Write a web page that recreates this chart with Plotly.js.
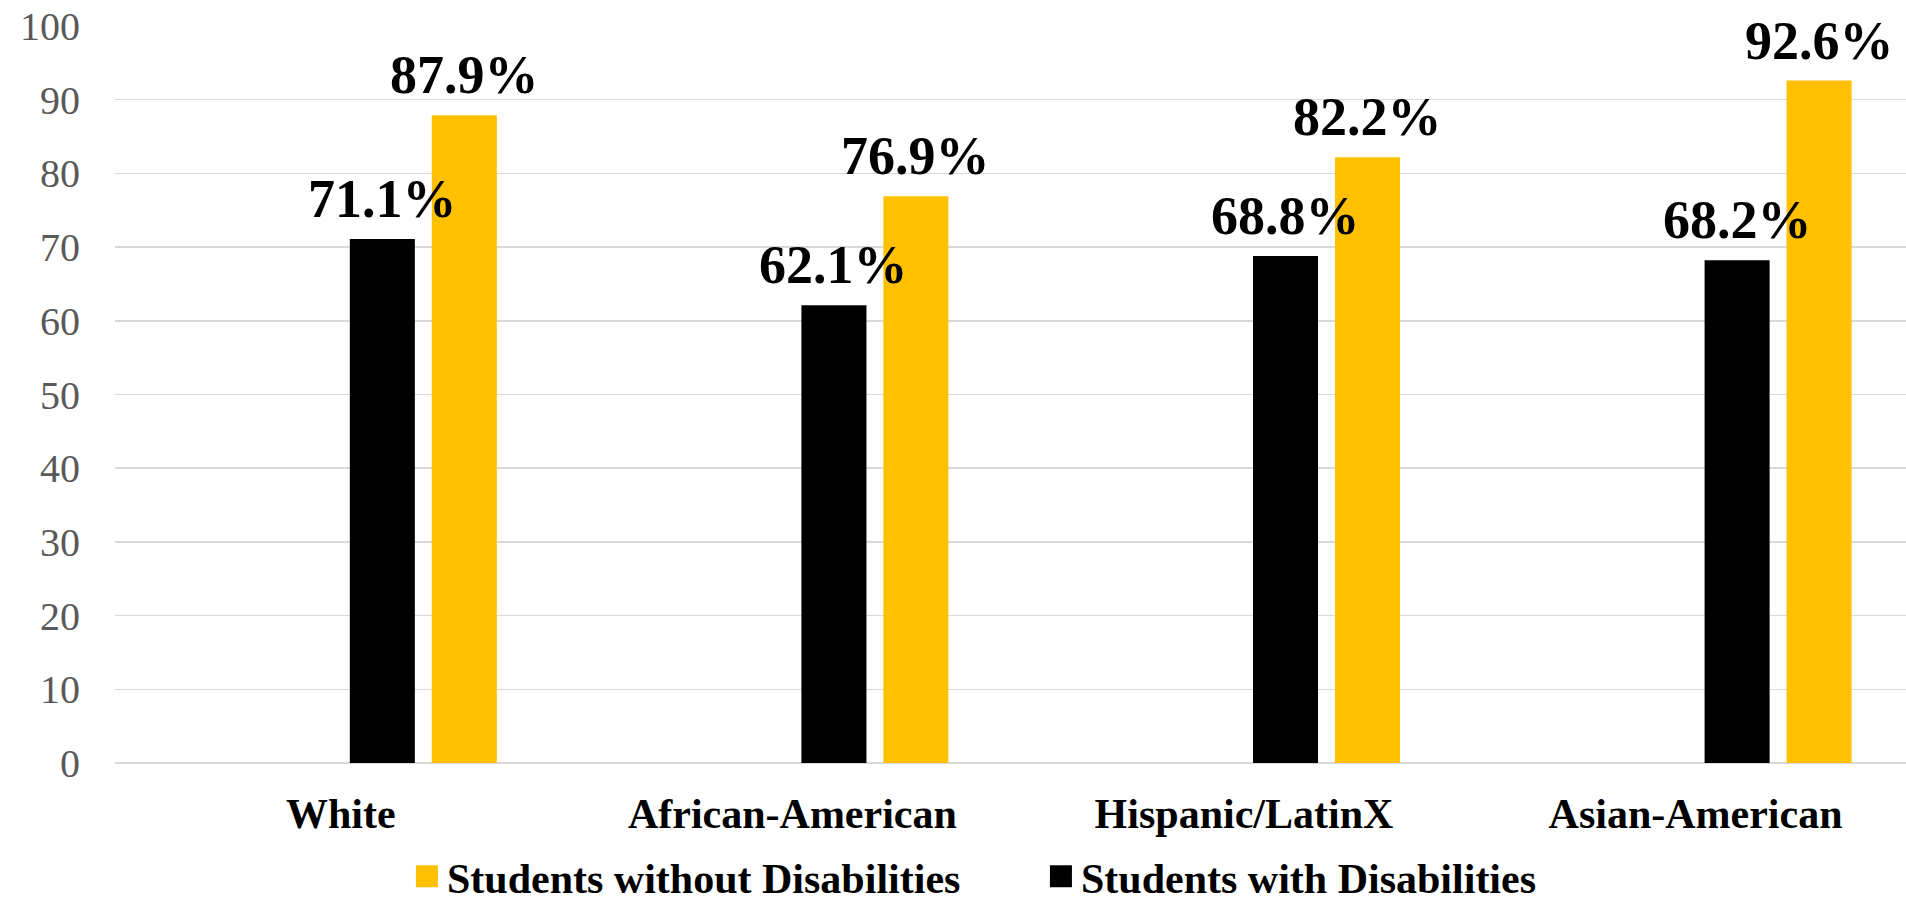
<!DOCTYPE html>
<html>
<head>
<meta charset="utf-8">
<script src="https://cdn.plot.ly/plotly-3.0.1.min.js"></script>
<style>
  html, body { margin: 0; padding: 0; background: #ffffff; }
  #chart { width: 1906px; height: 903px; }
</style>
</head>
<body>
<div id="chart"></div>
<script>
// Graduation rates by race/ethnicity, with and without disabilities
const groups = ['White', 'African-American', 'Hispanic/LatinX', 'Asian-American'];
const withDisabilities = [71.1, 62.1, 68.8, 68.2];
const withoutDisabilities = [87.9, 76.9, 82.2, 92.6];
const yTicks = [0, 10, 20, 30, 40, 50, 60, 70, 80, 90, 100];

const BLACK = '#000000';
const GOLD = '#FFC000';
const GRID = '#d9d9d9';
const SERIF = 'Liberation Serif, Times New Roman, serif';

// bar geometry in category units (two bars sit right of each category centre)
const barWidth = 0.144;
const offsetWith = 0.02;
const offsetWithout = 0.2015;

const traces = [
  {
    type: 'bar',
    name: 'Students with Disabilities',
    x: groups,
    y: withDisabilities,
    width: barWidth,
    offset: offsetWith,
    marker: { color: BLACK, line: { width: 0 } },
    legendrank: 2,
    hoverinfo: 'x+y'
  },
  {
    type: 'bar',
    name: 'Students without Disabilities',
    x: groups,
    y: withoutDisabilities,
    width: barWidth,
    offset: offsetWithout,
    marker: { color: GOLD, line: { width: 0 } },
    legendrank: 1,
    hoverinfo: 'x+y'
  }
];

// value labels above each bar
function valueLabels(values, offset) {
  return values.map((v, i) => ({
    x: i + offset + barWidth / 2,
    y: v,
    xref: 'x',
    yref: 'y',
    text: v.toFixed(1) + '%',
    showarrow: false,
    xanchor: 'center',
    yanchor: 'bottom',
    yshift: 8,
    font: { family: SERIF, size: 54, color: '#000000', weight: 700 }
  }));
}

const layout = {
  width: 1906,
  height: 903,
  paper_bgcolor: '#ffffff',
  plot_bgcolor: '#ffffff',
  margin: { l: 114.5, r: 0, t: 26, b: 140, autoexpand: false },
  barmode: 'overlay',
  showlegend: true,
  legend: {
    orientation: 'h',
    x: 0.163,
    xanchor: 'left',
    y: -0.154,
    yanchor: 'middle',
    entrywidth: 589,
    font: { family: SERIF, size: 42, color: '#000000', weight: 700 },
    bgcolor: 'rgba(0,0,0,0)'
  },
  xaxis: {
    type: 'category',
    categoryorder: 'array',
    categoryarray: groups,
    range: [-0.5, 3.466],
    showgrid: false,
    showline: false,
    zeroline: false,
    ticks: '',
    ticklabelstandoff: 22,
    tickfont: { family: SERIF, size: 42, color: '#000000', weight: 700 }
  },
  yaxis: {
    range: [0, 100],
    tickvals: yTicks,
    ticktext: yTicks.map(String),
    showgrid: true,
    gridcolor: GRID,
    gridwidth: 1.5,
    zeroline: true,
    zerolinecolor: GRID,
    zerolinewidth: 1.5,
    showline: false,
    ticks: '',
    ticklabelstandoff: 34,
    tickfont: { family: SERIF, size: 40, color: '#595959' }
  },
  annotations: [
    ...valueLabels(withDisabilities, offsetWith),
    ...valueLabels(withoutDisabilities, offsetWithout)
  ]
};

Plotly.newPlot('chart', traces, layout, { displayModeBar: false, staticPlot: true })
  .then(gd => {
    // larger square legend keys
    gd.querySelectorAll('.legend .legendpoints path').forEach(p => {
      p.setAttribute('d', 'M11,11H-11V-11H11Z');
      p.style.strokeWidth = '0px';
    });
  });
</script>
</body>
</html>
